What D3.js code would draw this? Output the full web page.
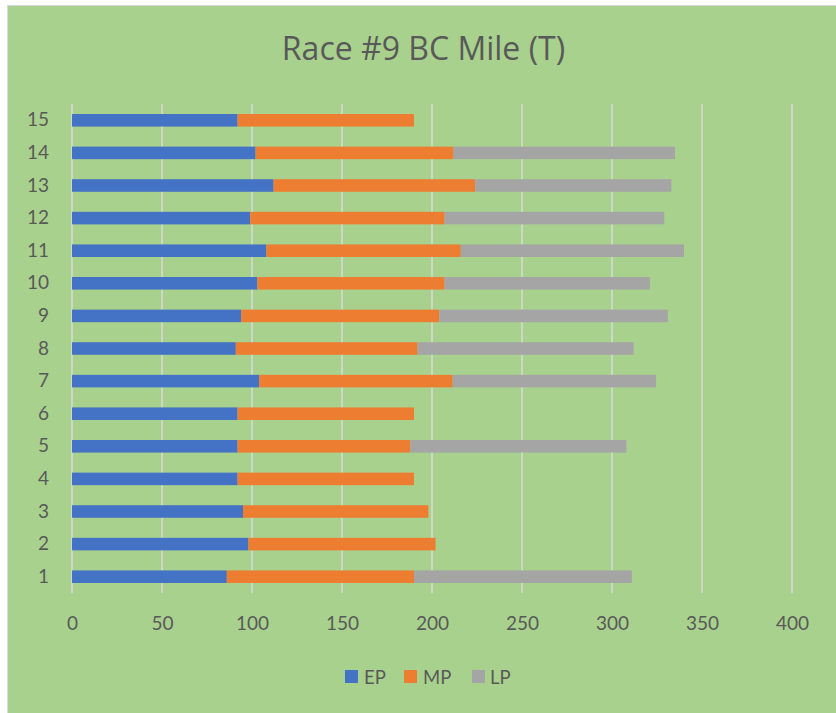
<!DOCTYPE html>
<html>
<head>
<meta charset="utf-8">
<script src="https://cdn.jsdelivr.net/npm/d3@7"></script>
<style>
  html, body { margin: 0; padding: 0; background: #ffffff; }
  svg { display: block; }
  text { font-family: Lato, "Open Sans", sans-serif; fill: #595959; }
</style>
</head>
<body>
<svg id="chart" width="836" height="713"></svg>
<script>
const title = "Race #9 BC Mile (T)";
const categories = ["1","2","3","4","5","6","7","8","9","10","11","12","13","14","15"];
const seriesNames = ["EP", "MP", "LP"];
const seriesColors = ["#4472C4", "#ED7D31", "#A5A5A5"];
const epValues = [86, 98, 95, 92, 92, 92, 104, 91, 94, 103, 108, 99, 112, 102, 92];
const mpValues = [104, 104, 103, 98, 96, 98, 107.5, 101, 110, 104, 108, 108, 112, 110, 98];
const lpValues = [121, 0, 0, 0, 120, 0, 113, 120, 127, 114, 124, 122, 109, 123, 0];
const xTicks = [0, 50, 100, 150, 200, 250, 300, 350, 400];

const rows = categories.map((c, i) => ({ cat: c, EP: epValues[i], MP: mpValues[i], LP: lpValues[i] }));

const svg = d3.select("#chart");

// chart background
svg.append("rect")
  .attr("x", 7.5).attr("y", 5.5)
  .attr("width", 840).attr("height", 720)
  .attr("fill", "#A9D18E")
  .attr("stroke", "#D9D9D9").attr("stroke-width", 1);

const plot = { left: 72, right: 792, top: 104, bottom: 593 };

const x = d3.scaleLinear().domain([0, 400]).range([plot.left, plot.right]);
const y = d3.scaleBand().domain(categories.slice().reverse())
  .range([plot.top, plot.bottom]).paddingInner(0.615).paddingOuter(0.3075);

// gridlines
svg.append("g").selectAll("line").data(xTicks).join("line")
  .attr("x1", d => x(d)).attr("x2", d => x(d))
  .attr("y1", plot.top).attr("y2", plot.bottom)
  .attr("stroke", "#D9D9D9").attr("stroke-width", 1.5);

// stacked bars
const stack = d3.stack().keys(seriesNames);
const stacked = stack(rows);

svg.append("g").selectAll("g").data(stacked).join("g")
  .attr("fill", (d, i) => seriesColors[i])
  .selectAll("rect").data(d => d.filter(p => p[1] - p[0] > 0)).join("rect")
  .attr("x", d => x(d[0]))
  .attr("width", d => x(d[1]) - x(d[0]))
  .attr("y", d => y(d.data.cat))
  .attr("height", y.bandwidth());

// y axis labels
const yAxis = d3.axisLeft(y).tickSize(0).tickPadding(23);
const yg = svg.append("g").attr("transform", `translate(${plot.left},0)`).call(yAxis);
yg.select(".domain").remove();
yg.selectAll("text").attr("font-size", 19).attr("fill", "#595959")
  .style("font-family", "Lato, 'Open Sans', sans-serif");

// x axis labels
const xAxis = d3.axisBottom(x).tickValues(xTicks).tickSize(0).tickPadding(24);
const xg = svg.append("g").attr("transform", `translate(0,${plot.bottom})`).call(xAxis);
xg.select(".domain").remove();
xg.selectAll("text").attr("font-size", 19).attr("fill", "#595959")
  .style("font-family", "Lato, 'Open Sans', sans-serif");

// title
svg.append("text")
  .attr("x", 423.5).attr("y", 60)
  .attr("text-anchor", "middle")
  .attr("font-size", 32)
  .style("font-family", "'Open Sans', Lato, sans-serif")
  .text(title);

// legend
const legendItems = [
  { name: "EP", sx: 345, tx: 364 },
  { name: "MP", sx: 404, tx: 423 },
  { name: "LP", sx: 472, tx: 490 }
];
const lg = svg.append("g");
legendItems.forEach((it, i) => {
  lg.append("rect").attr("x", it.sx).attr("y", 670).attr("width", 13).attr("height", 13)
    .attr("fill", seriesColors[i]);
  lg.append("text").attr("x", it.tx).attr("y", 683.5).attr("font-size", 18.5).text(it.name);
});
</script>
</body>
</html>
